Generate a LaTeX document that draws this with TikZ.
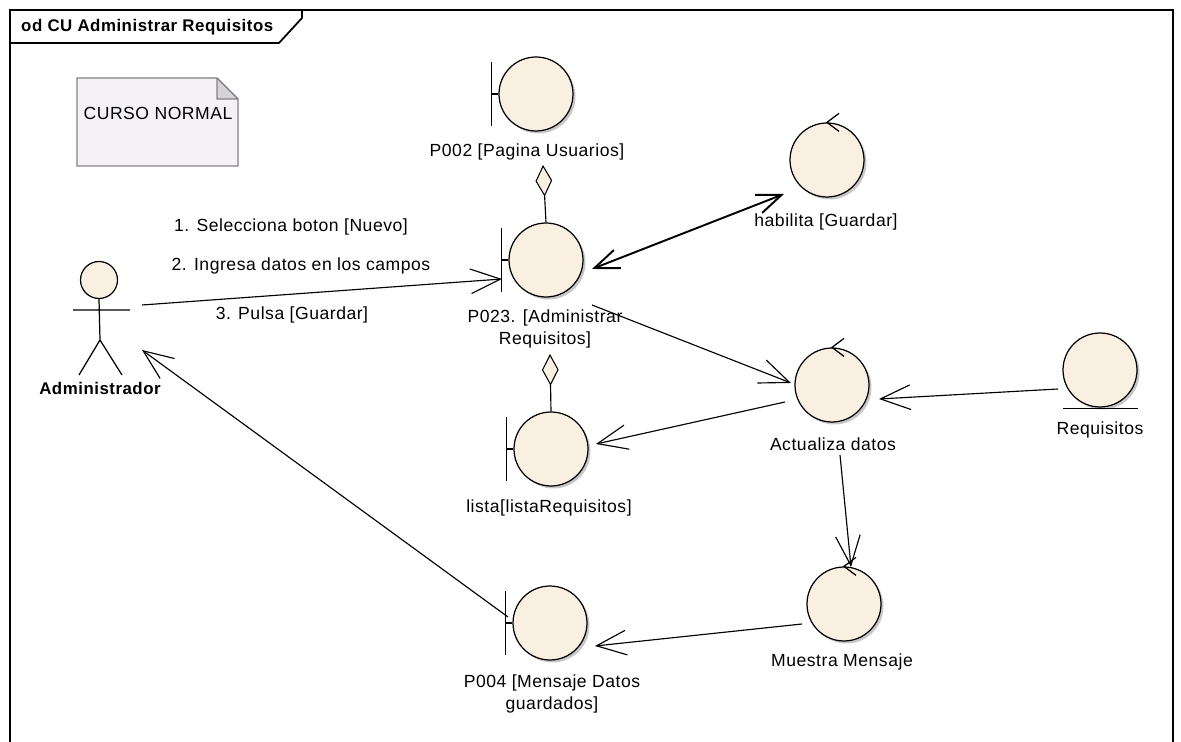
\documentclass[tikz,border=0pt]{standalone}
\usepackage{fontspec}
\setmainfont{Liberation Sans}[LetterSpace=3]
\usepackage{tikz}
\usetikzlibrary{arrows.meta,calc,shadows}
\definecolor{objfill}{RGB}{250,240,226}
\definecolor{notefill}{RGB}{246,241,246}
\definecolor{notefold}{RGB}{212,210,215}
\definecolor{notedraw}{RGB}{130,130,130}

\begin{document}
\begin{tikzpicture}[x=0.02cm,y=-0.02cm,
  every node/.style={font=\fontsize{10}{12.6}\selectfont},
  obj/.style={circle,draw,line width=0.7pt,fill=objfill,minimum size=1.48cm,inner sep=0pt,
    drop shadow={shadow xshift=0.05cm,shadow yshift=-0.05cm,fill=black!40,opacity=0.55}},
  lbl/.style={inner sep=1pt,align=center},
  bold/.style={font=\fontsize{9.6}{12.6}\selectfont\bfseries},
  msg/.style={line width=0.65pt,-{Straight Barb[length=17pt,width=14pt]}},
  dmsg/.style={line width=1.1pt,{Straight Barb[length=14pt,width=11pt]}-{Straight Barb[length=14pt,width=11pt]}},
  agg/.style={line width=0.65pt,{Diamond[length=18pt,width=9.5pt,fill=objfill,line width=0.6pt]}-}]
  \useasboundingbox (0,0) rectangle (1181,742);
  % frame and title tab
  \draw[line width=1pt] (10,760) -- (10,10) -- (1173,10) -- (1173,760);
  \draw[line width=1pt] (302,10) -- (302,18) -- (279,43) -- (10,43);
  \node[bold,anchor=west] (title) at (15,27) {od CU Administrar Requisitos};
  % note
  \fill[notefill] (77,78) -- (217,78) -- (238,99) -- (238,166) -- (77,166) -- cycle;
  \fill[notefold] (217,78) -- (217,99) -- (238,99) -- cycle;
  \draw[notedraw,line width=0.8pt] (77,78) -- (217,78) -- (238,99) -- (238,166) -- (77,166) -- cycle
    (217,78) -- (217,99) -- (238,99);
  \node (note) at (158,113) {CURSO NORMAL};
  % actor
  \coordinate (adm) at (101,318);
  \node[circle,draw,line width=0.7pt,fill=objfill,minimum size=0.74cm,inner sep=0pt] (admhead) at (99,280) {};
  \draw[line width=0.7pt] (admhead.south) -- (100,340) (73,310) -- (130,310)
    (79,375) -- (100,340) -- (122,375);
  \node[bold] (admlbl) at (100,388) {Administrador};
  % objects
  \node[obj] (p002) at (536,94) {};
  \node[obj] (p023) at (546,260) {};
  \node[obj] (lista) at (551,449) {};
  \node[obj] (p004) at (550,623) {};
  \node[obj] (hab) at (827,160) {};
  \node[obj] (act) at (832,385) {};
  \node[obj] (mue) at (844,604) {};
  \node[obj] (req) at (1100,370) {};
  \foreach \n in {p002,p023,lista,p004}
    \draw[line width=0.7pt] (\n.west) -- ++(-7,0) ++(0,-32) -- ++(0,64);
  \foreach \n in {hab,act,mue}
    \draw[line width=0.7pt] ([shift={(12,-9)}]\n.north) -- (\n.north) -- ++(12,9);
  \draw[line width=0.7pt] ($(req.south)+(-37,1)$) -- ++(75,0);
  % labels
  \node[lbl] (p002lbl) at (527,152) {P002 [Pagina Usuarios]};
  \node[lbl] (p023lbl) at (545,329) {P023. [Administrar\\Requisitos]};
  \node[lbl] (hablbl) at (826,222) {habilita [Guardar]};
  \node[lbl] (listalbl) at (549,508) {lista[listaRequisitos]};
  \node[lbl] (actlbl) at (833,444) {Actualiza datos};
  \node[lbl] (reqlbl) at (1100,430) {Requisitos};
  \node[lbl] (muelbl) at (842,662) {Muestra Mensaje};
  \node[lbl] (p004lbl) at (552,694) {P004 [Mensaje Datos\\guardados]};
  \node[lbl] (m1) at (291,227) {1. Selecciona boton [Nuevo]};
  \node[lbl] (m2) at (301,266) {2. Ingresa datos en los campos};
  \node[lbl] (m3) at (292,315) {3. Pulsa [Guardar]};
  % connectors
  \draw[msg] ($(adm)+(41,-13)$) -- ($(p023)+(-44,19)$);
  \draw[dmsg] ($(p023)+(46,9)$) -- ($(hab)+(-43,34)$);
  \draw[msg] ($(p023)+(46,45)$) -- ($(act)+(-41,-2)$);
  \draw[msg] ($(act)+(-47,17)$) -- ($(lista)+(45,-5)$);
  \draw[msg] ($(req)+(-42,19)$) -- ($(act)+(47,14)$);
  \draw[msg] ($(act)+(8,70)$) -- ($(mue)+(7,-37)$);
  \draw[msg] ($(mue)+(-42,20)$) -- ($(p004)+(45,23)$);
  \draw[msg] ($(p004)+(-42,-6)$) -- ($(adm)+(41,32)$);
  \draw[agg] ($(p002)+(7,71)$) -- (p023.north);
  \draw[agg] ($(p023)+(4,94)$) -- (lista.north);
\end{tikzpicture}
\end{document}
